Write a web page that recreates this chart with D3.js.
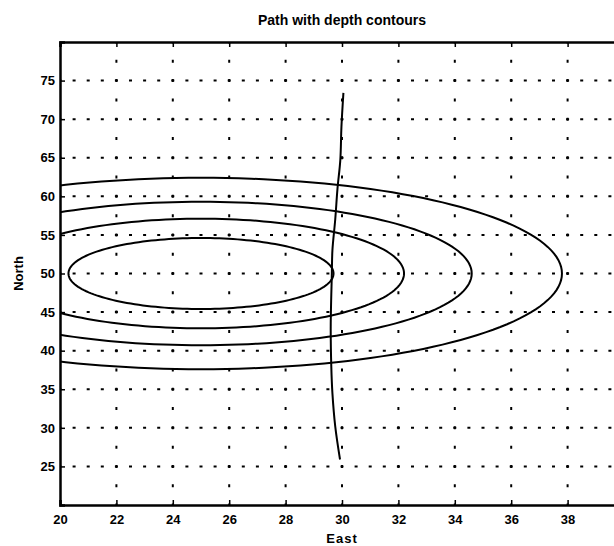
<!DOCTYPE html>
<html>
<head>
<meta charset="utf-8">
<script src="https://cdn.jsdelivr.net/npm/d3@7"></script>
<style>
  body { margin: 0; background: #fff; }
  text { font-family: "Liberation Sans", Arial, sans-serif; fill: #000; }
</style>
</head>
<body>
<div id="chartId"></div>
<script>
/*
Data
*/
const titleText = "Path with depth contours";
const xLabel = "East";
const yLabel = "North";
const xTicks = [20, 22, 24, 26, 28, 30, 32, 34, 36, 38];
const yTicks = [25, 30, 35, 40, 45, 50, 55, 60, 65, 70, 75];

// depth contours: ellipses around one centre
const contourCenter = [25, 50];
const contourEast = [4.7, 7.2, 9.6, 12.8];   // semi axis along East
const contourNorth = [4.6, 7.1, 9.3, 12.4];  // semi axis along North

// the path top to bottom
const pathEast = [30.05, 29.98, 29.94, 29.84, 29.76, 29.66, 29.64, 29.6, 29.62, 29.66, 29.76, 29.93];
const pathNorth = [73.4, 69.0, 64.7, 61.0, 57.0, 53.0, 50.0, 43.1, 38.0, 34.5, 30.2, 25.9];

/*
Layout
*/
const width = 614, height = 546;
const m_left = 60, m_right = 624, m_top = 42, m_bottom = 505;

const x = d3.scaleLinear().domain([20, 40]).range([m_left, m_right]);
const y = d3.scaleLinear().domain([20, 80]).range([m_bottom, m_top]);

const svg = d3.select("#chartId")
    .append("svg")
    .attr("width", width)
    .attr("height", height);

svg.append("rect").attr("width", width).attr("height", height).attr("fill", "#fff");

svg.append("defs").append("clipPath").attr("id", "plotClip")
    .append("rect")
    .attr("x", m_left).attr("y", m_top)
    .attr("width", m_right - m_left).attr("height", m_bottom - m_top);

/*
Grid (matlab style dotted)
*/
const g_grid = svg.append("g");
const xStep = (x(22) - x(20)) / 4;
const yStep = (y(20) - y(25)) / 2;

g_grid.selectAll("line.h").data(yTicks).enter()
    .append("line")
    .attr("x1", m_left).attr("x2", m_right)
    .attr("y1", d => y(d)).attr("y2", d => y(d))
    .attr("stroke", "#000")
    .attr("stroke-width", 2)
    .attr("stroke-dasharray", `3 ${xStep - 3}`)
    .attr("stroke-dashoffset", 1.5);

g_grid.selectAll("line.v").data(xTicks.slice(1)).enter()
    .append("line")
    .attr("x1", d => x(d)).attr("x2", d => x(d))
    .attr("y1", m_bottom).attr("y2", m_top)
    .attr("stroke", "#000")
    .attr("stroke-width", 2)
    .attr("stroke-dasharray", `3 ${yStep - 3}`)
    .attr("stroke-dashoffset", 1.5);

/*
Contours and path
*/
const g_plot = svg.append("g").attr("clip-path", "url(#plotClip)");

const angles = d3.range(0, 2 * Math.PI, Math.PI / 90);
const ellipse = d3.line()
    .x(d => x(d[0]))
    .y(d => y(d[1]))
    .curve(d3.curveLinearClosed);

contourEast.forEach((a, i) => {
    const b = contourNorth[i];
    const pts = angles.map(t => [contourCenter[0] + a * Math.cos(t), contourCenter[1] + b * Math.sin(t)]);
    g_plot.append("path")
        .attr("d", ellipse(pts))
        .attr("fill", "none")
        .attr("stroke", "#000")
        .attr("stroke-width", 2);
});

const pathLine = d3.line()
    .x(d => x(d[0]))
    .y(d => y(d[1]))
    .curve(d3.curveCatmullRom);

g_plot.append("path")
    .attr("d", pathLine(pathEast.map((e, i) => [e, pathNorth[i]])))
    .attr("fill", "none")
    .attr("stroke", "#000")
    .attr("stroke-width", 2);

/*
Axes
*/
const xAxis = d3.axisBottom(x).tickValues(xTicks).tickSize(-5).tickPadding(10);
const yAxis = d3.axisLeft(y).tickValues(yTicks).tickSize(-5).tickPadding(5);

const gx = svg.append("g").attr("transform", `translate(0,${m_bottom})`).call(xAxis);
const gy = svg.append("g").attr("transform", `translate(${m_left},0)`).call(yAxis);
const gxTop = svg.append("g").attr("transform", `translate(0,${m_top})`)
    .call(d3.axisTop(x).tickValues(xTicks).tickSize(-5).tickFormat(""));

[gx, gy, gxTop].forEach(g => {
    g.select(".domain").attr("stroke", "#000").attr("stroke-width", 2.5);
    g.selectAll(".tick line").attr("stroke", "#000").attr("stroke-width", 1.5);
    g.selectAll(".tick text")
        .attr("font-family", "Liberation Sans, Arial, sans-serif")
        .attr("font-size", 13)
        .attr("font-weight", "bold")
        .attr("fill", "#000");
});

/*
Labels
*/
svg.append("text")
    .attr("x", (m_left + m_right) / 2).attr("y", 25)
    .attr("text-anchor", "middle")
    .attr("font-size", 14).attr("font-weight", "bold")
    .text(titleText);

svg.append("text")
    .attr("x", (m_left + m_right) / 2).attr("y", 543)
    .attr("text-anchor", "middle")
    .attr("font-size", 13).attr("font-weight", "bold")
    .attr("letter-spacing", 1)
    .text(xLabel);

svg.append("text")
    .attr("transform", `translate(23,${(m_top + m_bottom) / 2}) rotate(-90)`)
    .attr("text-anchor", "middle")
    .attr("font-size", 13).attr("font-weight", "bold")
    .text(yLabel);
</script>
</body>
</html>
